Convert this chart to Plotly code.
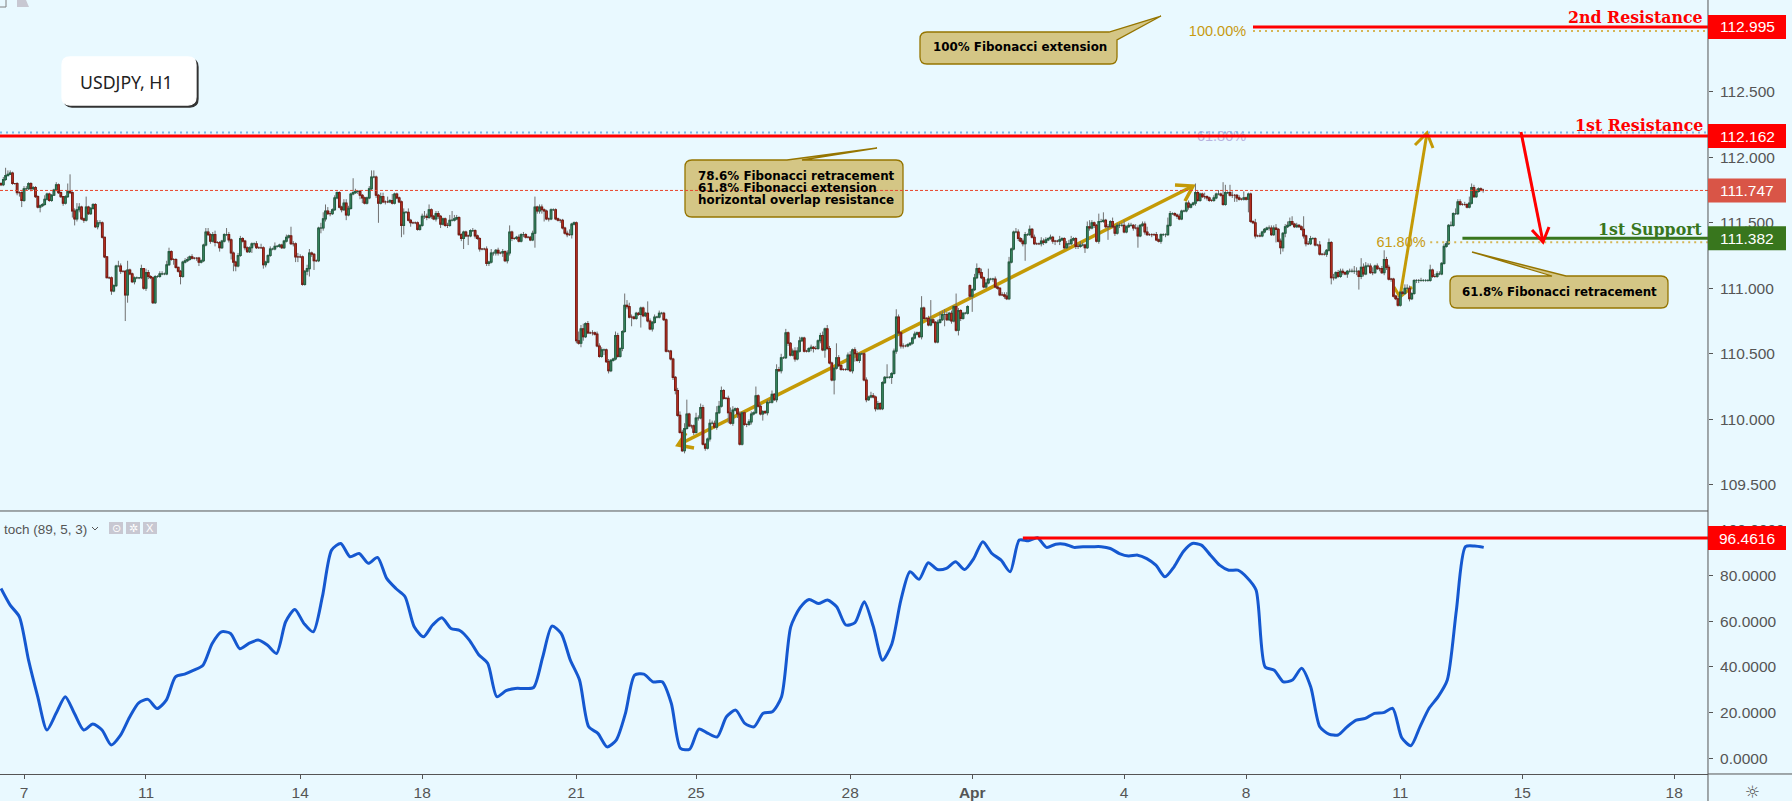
import numpy as np
import plotly.graph_objects as go

W, H = 1792, 801

# Hourly closes in pips (price * 100)
closes_mar_a = [
    11179,11183,11186,11187,11188,11180,11180,11173,11173,11167,
    11176,11176,11180,11176,11177,11170,11162,11163,11164,11168,
    11172,11167,11171,11175,11179,11173,11170,11165,11170,11174,
    11173,11159,11153,11160,11162,11153,11152,11162,11157,11161,
    11164,11147,11150,11150,11139,11124,11108,11108,11098,11102,
    11117,11117,11113,11113,11095,11114,11111,11105,11108,11108,
    11108,11115,11100,11112,11109,11108,11089,11109,11109,11111,
    11111,11111,11118,11128,11122,11122,11116,11113,11109,11120,
    11121,11122,11124,11123,11123,11123,11120,11121,11133,11143,
    11141,11136,11141,11135,11135,11131,11136,11141,11141,11137,
    11127,11120,11117,11125,11138,11136,11131,11128,11131,11134,
    11134,11131,11131,11131,11118,11120,11125,11130,11130,11132,
    11132,11133,11131,11136,11139,11140,11134,11134,11124,11124]
closes_mar_b = [
    11124,11103,11113,11115,11127,11126,11121,11121,11146,11146,
    11153,11159,11157,11157,11160,11169,11173,11162,11160,11165,
    11156,11161,11172,11173,11174,11174,11171,11169,11165,11169,
    11176,11185,11185,11171,11165,11170,11166,11166,11166,11167,
    11165,11172,11169,11166,11148,11158,11158,11152,11150,11150,
    11150,11145,11148,11155,11155,11154,11160,11155,11153,11157,
    11155,11149,11153,11148,11148,11152,11152,11153,11154,11141,
    11138,11143,11140,11140,11144,11144,11140,11138,11130,11130,
    11130,11119,11120,11127,11127,11129,11127,11127,11128,11121,
    11127,11143,11138,11138,11139,11136,11141,11141,11139,11139,
    11137,11142,11162,11159,11162,11160,11159,11153,11153,11160,
    11160,11153,11152,11152,11146,11142,11141,11141,11149,11150,
    11060,11058,11069,11063,11073,11066,11066,11066,11065,11056,
    11048]
closes_mar_c = [
    11053,11053,11044,11037,11045,11046,11064,11048,11054,11067,
    11087,11086,11078,11078,11077,11081,11080,11085,11079,11081,
    11075,11069,11074,11078,11078,11081,11081,11076,11052,11052,
    11046,11032,11022,11003,10990,10976,10993,11004,10995,10995,
    10990,11001,11001,11009,10981,10978,10985,10997,10997,10994,
    11005,11010,11022,11016,11016,11005,10997,11007,11008,11004,
    10981,11005,10996,10996,10998,11004,11005,11018,11010,11004,
    11006,11005,11013,11013,11019,11015,11038,11037,11047,11047,
    11066,11058,11049,11052,11046,11052,11060,11062,11052,11052,
    11054,11055,11054,11054,11060,11064,11053,11069,11054,11043,
    11030,11039,11047,11041,11038,11038,11038,11049,11037,11053,
    11050,11045,11050,11050,11030,11015,11017,11018,11017,11008,
    11012,11008,11028,11032,11032,11032,11035,11052,11078,11066]
closes_apr_a = [
    11056,11056,11056,11057,11058,11062,11065,11066,11063,11085,
    11077,11077,11072,11076,11074,11059,11074,11076,11080,11080,
    11076,11081,11075,11086,11068,11083,11077,11081,11081,11086,
    11094,11099,11108,11115,11112,11108,11101,11104,11107,11107,
    11107,11101,11100,11095,11095,11094,11092,11120,11130,11143,
    11143,11138,11136,11134,11141,11141,11145,11139,11134,11134,
    11134,11136,11135,11137,11138,11139,11136,11136,11136,11137,
    11138,11131,11134,11134,11137,11138,11132,11132,11133,11133,
    11131,11147,11146,11150,11148,11136,11151,11151,11152,11147,
    11147,11151,11147,11142,11148,11148,11148,11143,11147,11148,
    11148,11146,11146,11140,11148,11149,11143,11141,11141,11141,
    11141,11137,11136,11141,11141,11141,11148,11157,11157,11156,
    11155,11153,11159,11159,11165,11162,11164,11165,11173,11167,
    11172]
closes_apr_b = [
    11170,11170,11169,11167,11167,11169,11172,11172,11171,11164,
    11173,11173,11171,11171,11171,11169,11168,11168,11169,11168,
    11172,11151,11150,11140,11140,11140,11143,11145,11146,11146,
    11141,11146,11145,11136,11131,11142,11147,11148,11151,11149,
    11147,11148,11147,11145,11140,11134,11134,11138,11138,11133,
    11133,11126,11126,11126,11129,11135,11108,11108,11112,11109,
    11113,11112,11111,11113,11113,11113,11113,11113,11109,11116,
    11111,11117,11117,11112,11112,11117,11115,11115,11112,11122,
    11116,11107,11107,11094,11092,11087,11097,11096,11100,11100,
    11092,11096,11106,11106,11106,11106,11106,11106,11106,11114,
    11109,11109,11111,11111,11119,11132,11134,11148,11148,11157,
    11157,11166,11164,11164,11164,11162,11165,11177,11170,11174,
    11176,11175,11175]

# Upper and lower wicks in pips, same order as the closes
wick_up = [
    1,2,6,3,2,1,0,1,1,1, 2,2,1,1,1,1,1,1,1,3, 1,1,1,1,2,1,1,0,1,6,
    13,1,2,5,3,1,1,8,1,1, 1,1,2,2,1,0,0,1,1,1, 1,4,2,0,1,7,1,1,1,1,
    0,3,0,3,2,1,1,1,1,2, 2,1,3,3,1,1,1,0,1,1, 2,2,1,2,0,0,1,1,1,3,
    3,1,2,3,1,1,1,1,5,2, 1,1,1,2,2,1,1,1,1,1, 1,2,1,3,1,1,1,2,1,3,
    1,1,1,1,2,1,7,2,1,3,
    2,1,1,3,3,1,1,1,1,4, 5,5,3,2,1,2,1,1,1,3, 3,2,1,11,2,1,1,1,1,1,
    2,5,5,1,1,3,3,1,4,1, 5,1,1,1,1,3,1,3,1,1, 1,1,1,2,4,2,4,1,1,2,
    2,1,1,1,2,4,7,3,2,1, 1,1,1,1,1,2,1,1,1,0, 1,2,1,3,1,1,2,1,2,1,
    2,5,1,1,1,2,1,2,1,1, 1,2,8,1,2,2,1,1,1,1, 1,1,1,1,1,1,2,4,1,1,
    1,7,3,4,1,2,1,2,1,2, 2,
    2,1,1,2,1,1,3,2,1,1, 9,4,3,2,1,1,1,1,1,1, 9,2,1,2,1,2,1,1,1,1,
    1,1,1,2,3,2,4,11,1,1, 1,4,2,3,2,1,1,3,2,2, 5,4,3,1,1,2,4,3,1,1,
    2,1,1,1,2,2,1,7,1,2, 1,1,2,2,3,1,4,2,3,1, 3,1,1,2,3,3,3,1,1,1,
    1,2,1,2,1,2,3,1,3,2, 1,1,11,2,1,1,1,2,3,1, 2,2,1,1,1,2,1,3,2,1,
    2,1,1,1,10,1,1,2,6,2,
    1,2,1,1,1,1,2,1,1,9, 1,1,2,15,1,1,2,6,3,4, 2,1,2,1,10,2,1,1,1,1,
    1,1,3,4,1,3,1,3,8,1, 1,2,1,1,2,2,3,4,1,1, 3,2,1,2,2,1,3,1,2,1,
    1,3,2,2,1,2,1,1,1,3, 1,1,2,3,3,1,1,2,3,2, 1,4,5,2,1,1,6,2,6,1,
    2,1,3,1,2,2,2,4,1,2, 2,1,3,2,1,2,2,4,1,1, 1,2,1,1,1,1,6,2,1,1,
    1,2,1,1,1,2,1,1,7,2, 1,
    1,3,1,1,1,2,1,3,1,10, 6,1,6,3,1,1,2,1,5,1, 1,1,1,3,1,2,1,1,1,2,
    2,2,3,1,2,1,2,3,3,4, 1,2,1,1,10,1,2,2,1,1, 1,3,1,2,1,3,1,3,1,2,
    2,2,1,1,2,2,4,3,1,7, 3,3,2,2,4,1,2,1,2,7, 2,2,1,1,1,2,1,1,3,3,
    2,1,1,1,1,2,1,1,1,4, 1,2,2,2,1,2,2,1,3,1, 4,2,2,1,2,1,5,3,2,2,
    1,1,1]
wick_down = [
    1,1,1,0,0,1,1,2,3,5, 1,1,1,2,1,1,1,4,1,1, 1,1,1,0,1,1,1,2,1,1,
    1,5,5,2,2,1,2,1,1,1, 1,1,2,2,1,1,0,1,3,1, 1,1,2,1,20,6,1,1,2,1,
    1,1,1,2,2,1,1,1,1,1, 1,1,1,1,1,4,1,1,6,1, 1,1,1,1,1,2,3,1,1,1,
    1,2,1,3,1,3,1,1,1,2, 5,7,4,1,1,1,2,1,1,4, 2,1,1,1,3,2,1,1,1,1,
    1,1,1,1,1,1,1,2,4,4,
    1,1,1,3,6,2,7,1,1,4, 2,2,1,2,1,1,1,1,2,1, 4,1,1,1,1,2,3,4,1,1,
    1,1,1,2,15,1,1,2,1,1, 1,1,1,1,9,7,1,1,3,1, 1,1,1,1,2,2,1,2,1,2,
    2,3,1,1,2,1,1,1,1,1, 2,8,1,7,1,1,2,1,2,1, 1,2,2,1,2,2,2,1,3,1,
    2,2,2,1,1,1,1,2,1,1, 1,1,11,2,2,3,8,1,2,1, 1,1,1,2,1,1,2,1,3,1,
    2,1,3,3,1,1,1,2,1,1, 1,1,4,1,2,1,1,1,1,1, 2,
    1,2,1,7,1,1,1,10,1,1, 1,1,2,1,1,1,1,1,1,1, 1,2,3,1,1,1,2,1,1,2,
    2,1,2,1,1,2,1,2,1,1, 2,1,1,1,1,8,1,2,1,3, 1,1,1,2,1,2,1,1,1,1,
    5,1,2,1,1,1,2,1,2,1, 1,2,1,1,2,1,1,1,1,1, 1,2,3,1,1,2,1,6,1,1,
    1,11,1,1,1,1,1,1,1,2, 6,1,2,1,1,2,1,1,1,2, 1,1,1,1,1,1,5,1,2,1,
    2,2,1,1,1,1,1,1,1,2,
    1,2,1,1,1,1,1,1,1,9, 1,1,2,1,1,4,2,1,1,1, 2,12,1,1,2,1,1,1,1,1,
    2,1,1,1,1,2,1,1,1,1, 1,2,1,2,13,1,1,1,1,1, 1,2,2,1,1,1,2,3,1,3,
    1,1,1,3,1,1,2,2,1,1, 4,1,2,1,2,1,2,1,1,1, 10,1,1,2,1,2,1,1,1,1,
    1,2,1,9,1,1,2,1,1,2, 1,1,1,2,1,2,1,1,1,1, 2,1,1,1,1,2,1,1,2,1,
    1,1,2,2,1,1,1,1,1,1, 1,
    1,1,1,2,5,3,1,1,1,1, 10,1,1,2,1,1,1,1,1,2, 1,1,10,1,5,3,3,1,1,1,
    1,1,1,1,2,2,1,1,1,1, 1,1,1,1,2,1,5,2,1,1, 1,2,1,3,1,1,2,3,10,2,
    2,1,1,1,2,1,1,2,1,2, 2,1,2,1,1,1,1,1,1,1, 2,1,1,2,2,1,1,1,1,1,
    1,1,1,1,1,1,1,1,1,1, 1,1,1,1,1,1,1,1,1,1, 1,1,2,1,1,2,1,1,1,1,
    1,0,0]

first_open = 11180
gap_opens = {421: 11102}

# Stoch line, one reading about every four bars
stoch_mar = [
    74.4,67.1,62,43,27,12.4,19.7,27,19.6,12.4,15,12.4,5.8,10,18,24.3,25.8,21.8,25.5,35.7,
    36.9,38.6,40.8,50.3,55.4,54.7,48,50.3,51.8,49.6,45.9,59.8,65.2,59,55.4,70.8,91.2,94.1,88.3,89.7,
    85.4,88,78.8,74.4,70.8,57.6,53.2,58.4,61.6,56.9,55.9,51.8,45.5,41.6,27,29.6,30.6,30.6,31,44.5,
    57.9,54.7,43,34.3,13.8,10.9,5,8,19.7,36.4,36.9,33.5,33.5,24,4.3,4,12.8,10.9,9.4,18.2,
    21.1,15.3,13.8,19.7,20.4,27,57.6,65.9,69.6,67.8,69.3,66.4,58.4,59.4,68.6,57.6,43,50]
stoch_apr = [
    69.3,81.7,78.4,85.7,82.7,83.2,86.1,82.7,87.5,94.9,89.7,86.8,81.7,95.6,95.3,96.6,92.4,93.8,93.8,92.4,
    92.7,92.7,92.7,91.9,89.7,88.6,89,87.5,84.6,79.5,83.9,90.5,94.1,93.4,89,84.6,82.4,82.4,79.2,73.7,
    40,38.6,33.5,34.3,39.4,31.3,13.8,10.6,10.2,13.8,16.7,17.5,19.7,20,21.9,9,5.5,13.8,21.9,27,
    34.3,64.9,92.7,93,92.4]

# Axis ticks, as bar numbers
price_ticks = [109.5, 110, 110.5, 111, 111.5, 112, 112.5]
stoch_ticks = [0, 20, 40, 60, 80, 100]
date_ticks = [10, 63, 130, 183, 250, 302, 369, 422, 488, 541, 608, 661, 727]
date_labels = ["7", "11", "14", "18", "21", "25", "28", "<b>Apr</b>", "4", "8", "11", "15", "18"]

res_2, res_1, last_price, sup_1 = 112.995, 112.162, 111.747, 111.382
fib_100, fib_blue, fib_618 = 112.965, 112.19, 111.352
stoch_level = 96.4616

RED = "#ff0000"
GREEN = "#38761d"
GOLD = "#c49a06"
BG = "#e9f9ff"
AXIS = "#555555"
TXT = "#555555"
DOTS = "2px,4px"

closes = np.array(closes_mar_a + closes_mar_b + closes_mar_c + closes_apr_a + closes_apr_b) / 100
n = len(closes)
opens = np.concatenate(([first_open / 100], closes[:-1]))
for i, v in gap_opens.items():
    opens[i] = v / 100
up = np.array((wick_up + [0] * n)[:n]) / 100
dn = np.array((wick_down + [0] * n)[:n]) / 100
highs = np.maximum(opens, closes) + up
lows = np.minimum(opens, closes) - dn
bars = np.arange(n)

XMIN, XMAX = -0.435, 741.7


def fx(x):
    return x / W


def fy(y):
    return 1 - y / H


def price_y(p):
    return 157.3 + (112 - p) * 131


def path_of(points):
    return "M " + " L ".join(f"{fx(x):.5f} {fy(y):.5f}" for x, y in points)


def callout(x0, y0, x1, y1, tail, r=7, fill="#d4c685", border="#957500"):
    # rounded box with a pointer leaving the top edge
    c = lambda x, y: f"{fx(x):.5f} {fy(y):.5f}"
    d = f"M {c(x0 + r, y0)}"
    for p in tail:
        d += f" L {c(*p)}"
    if tail[-1][1] == y0:
        d += f" L {c(x1 - r, y0)} Q {c(x1, y0)} {c(x1, y0 + r)}"
    d += f" L {c(x1, y1 - r)} Q {c(x1, y1)} {c(x1 - r, y1)}"
    d += f" L {c(x0 + r, y1)} Q {c(x0, y1)} {c(x0, y1 - r)}"
    d += f" L {c(x0, y0 + r)} Q {c(x0, y0)} {c(x0 + r, y0)} Z"
    return dict(type="path", path=d, xref="paper", yref="paper", fillcolor=fill,
                line=dict(color=border, width=1.3), layer="above")


def level(y, x0, color, width, dash="solid", yref="y"):
    return dict(type="line", xref="x", yref=yref, x0=x0, x1=XMAX, y0=y, y1=y, layer="above",
                line=dict(color=color, width=width, dash=dash))


def rect(x0, y0, x1, y1, color):
    return dict(type="rect", xref="paper", yref="paper", x0=fx(x0), x1=fx(x1), y0=fy(y0), y1=fy(y1),
                fillcolor=color, line=dict(width=0), layer="above")


def seg(points, color, width, layer="above"):
    return dict(type="path", path=path_of(points), xref="paper", yref="paper",
                line=dict(color=color, width=width), layer=layer)


def text(s, x, y, size, color, family="Liberation Sans", anchor="left", bold=False):
    return dict(text=f"<b>{s}</b>" if bold else s, x=fx(x), y=fy(y), xref="paper", yref="paper",
                xanchor=anchor, yanchor="middle", showarrow=False,
                font=dict(size=size, color=color, family=family))


fig = go.Figure()

# grey wicks first, bodies on top of them
fig.add_trace(go.Candlestick(
    x=bars, open=opens, high=highs, low=lows, close=closes, hoverinfo="skip", showlegend=False,
    increasing=dict(line=dict(color="#707070", width=1), fillcolor="#707070"),
    decreasing=dict(line=dict(color="#707070", width=1), fillcolor="#707070")))
fig.add_trace(go.Candlestick(
    x=bars, open=opens, close=closes, hoverinfo="skip", showlegend=False,
    high=np.maximum(opens, closes), low=np.minimum(opens, closes),
    increasing=dict(line=dict(color="#245f43", width=1.1), fillcolor="#46a877"),
    decreasing=dict(line=dict(color="#7a1c14", width=1.1), fillcolor="#f0402c")))

fig.add_trace(go.Scatter(
    x=np.concatenate((np.arange(len(stoch_mar)) * 3.99, 391 + np.arange(len(stoch_apr)) * 3.957)),
    y=stoch_mar + stoch_apr, mode="lines", yaxis="y2", hoverinfo="skip", showlegend=False,
    line=dict(color="#1558d0", width=3, shape="spline", smoothing=0.7)))

# fib labels sit under the level lines
fig.add_trace(go.Scatter(
    x=[541, 541, 619], y=[112.955, 112.155, 111.34], mode="text", hoverinfo="skip", showlegend=False,
    text=["100.00%", "61.80%", "61.80%"], textposition="middle left",
    textfont=dict(size=14.5, family="Liberation Sans", color=["#c79a10", "#b8b4e0", "#c79a10"])))

shapes = [
    # trend arrows
    seg([(678, 445), (1193, 186)], GOLD, 3.5, "below"),
    seg([(1175, 185), (1193, 186), (1185, 201)], GOLD, 3.5, "below"),
    seg([(694, 448), (678, 445), (686, 433)], GOLD, 3.5, "below"),
    seg([(1400, 297), (1427, 133)], GOLD, 3, "below"),
    seg([(1415, 145), (1427, 133), (1433, 148)], GOLD, 3, "below"),
    seg([(1394, 287), (1400, 297), (1412, 287)], GOLD, 3, "below"),
    # callouts
    callout(920, 32, 1117, 64, [(1109, 32), (1161, 16), (1117, 40)]),
    callout(685, 160, 903, 217, [(787, 160), (877, 148), (802, 160)]),
    callout(1450, 276, 1668, 308, [(1552, 276), (1472, 252), (1566, 276)]),
    # price levels
    level(fib_blue, XMIN, "#7ab8e8", 2, DOTS),
    level(fib_100, 544, "#d6b656", 2, DOTS),
    level(fib_618, 621, "#d6b656", 2, DOTS),
    level(last_price, XMIN, "#e8452c", 1, "3px,2px"),
    level(res_2, 544, RED, 3),
    level(res_1, XMIN, RED, 3),
    level(sup_1, 635, GREEN, 3),
    level(stoch_level, 444, RED, 3, yref="y2"),
    seg([(1521, 132), (1543, 242)], RED, 3),
    seg([(1532, 230), (1543, 242), (1549, 227)], RED, 3),
    # pane frame
    seg([(0, 511), (1708, 511)], AXIS, 1),
    seg([(1708, 0), (1708, 801)], AXIS, 1),
    seg([(1708, 774), (W, 774)], AXIS, 1),
    # price tags on the axis
    rect(1708, price_y(res_2) - 12, 1786, price_y(res_2) + 12, RED),
    rect(1708, price_y(res_1) - 12, 1786, price_y(res_1) + 12, RED),
    rect(1708, price_y(last_price) - 12, 1786, price_y(last_price) + 12, "#d95547"),
    rect(1708, price_y(sup_1) - 12, 1786, price_y(sup_1) + 12, GREEN),
    rect(1708, 526, 1786, 550, RED),
    # symbol box with its drop shadow
    callout(64, 59, 198, 107, [(72, 59)], r=8, fill="#333333", border="#333333"),
    callout(62, 57, 196, 105, [(70, 57)], r=8, fill="#ffffff", border="#ffffff"),
    # stoch legend buttons
    rect(109, 522, 123, 534, "#c8c8d2"),
    rect(126, 522, 140, 534, "#c8c8d2"),
    rect(143, 522, 157, 534, "#c8c8d2"),
    seg([(92, 527), (95, 530), (98, 527)], TXT, 1),
    # clipped toolbar bits in the corner
    dict(type="rect", xref="paper", yref="paper", x0=fx(-2), x1=fx(6), y0=fy(-2), y1=fy(7),
         line=dict(color="#808080", width=1), layer="above"),
    dict(type="path", xref="paper", yref="paper", fillcolor="#c8c8d2", line=dict(width=0), layer="above",
         path=path_of([(17, 0), (26, 0), (29, 7), (17, 7)]) + " Z"),
]

serif = "DejaVu Serif"
verdana = "DejaVu Sans"
notes = [
    text("2nd Resistance", 1705, 17, 15.8, RED, serif, "right", True),
    text("1st Resistance", 1705, 126, 15.8, RED, serif, "right", True),
    text("1st Support", 1705, 229, 15.8, GREEN, serif, "right", True),
    text("100% Fibonacci extension", 931, 47, 11.9, "#000000", verdana, bold=True),
    text("78.6% Fibonacci retracement", 696, 176, 11.9, "#000000", verdana, bold=True),
    text("61.8% Fibonacci extension", 696, 188, 11.9, "#000000", verdana, bold=True),
    text("horizontal overlap resistance", 696, 200, 11.9, "#000000", verdana, bold=True),
    text("61.8% Fibonacci retracement", 1460, 292, 11.8, "#000000", verdana, bold=True),
    text("USDJPY, H1", 78, 82, 17.7, "#222222", "Noto Sans"),
    text("toch (89, 5, 3)", 2, 529, 13.5, TXT),
    text("☼", 1752, 792, 17, TXT, "DejaVu Sans", "center"),
    text("⊙", 116, 528, 11, "#ffffff", "DejaVu Sans", "center"),
    text("✲", 133, 528, 11, "#ffffff", "DejaVu Sans", "center"),
    text("X", 150, 528, 11, "#ffffff", "Liberation Sans", "center"),
]
for p in (res_2, res_1, last_price, sup_1):
    notes.append(text(f"{p:.3f}", 1747, price_y(p), 15.5, "#ffffff", anchor="center"))
notes.append(text(f"{stoch_level:.4f}", 1747, 538, 15.5, "#ffffff", anchor="center"))

tickfont = dict(size=15.5, color=TXT, family="Liberation Sans")
fig.update_layout(
    width=W, height=H, margin=dict(l=0, r=0, t=0, b=0), autosize=False,
    paper_bgcolor=BG, plot_bgcolor=BG, showlegend=False, boxmode="overlay", boxgap=0.03,
    shapes=shapes, annotations=notes,
    xaxis=dict(domain=[0, 1708 / W], range=[XMIN, XMAX], type="linear", anchor="y2", rangeslider=dict(visible=False),
               tickmode="array", tickvals=date_ticks, ticktext=date_labels, ticks="outside", ticklen=4,
               tickcolor=AXIS, tickfont=tickfont, showgrid=False, zeroline=False,
               showline=True, linecolor=AXIS, linewidth=1),
    yaxis=dict(domain=[1 - 511 / H, 1], range=[109.2999, 113.2008], side="right", anchor="x",
               tickmode="array", tickvals=price_ticks, ticktext=[f"{v:.3f}" for v in price_ticks],
               ticks="outside", ticklen=4, tickcolor=AXIS, tickfont=tickfont, ticklabelstandoff=4,
               showgrid=False, zeroline=False),
    yaxis2=dict(domain=[1 - 774 / H, 1 - 512 / H], range=[-6.88, 107.9], side="right", anchor="x",
                tickmode="array", tickvals=stoch_ticks, ticktext=[f"{v:.4f}" for v in stoch_ticks],
                ticks="outside", ticklen=4, tickcolor=AXIS, tickfont=tickfont, ticklabelstandoff=4,
                showgrid=False, zeroline=False),
)

fig.write_html("out.html", config=dict(displayModeBar=False),
               post_script="document.body.style.margin='0';document.body.style.overflow='hidden';")
